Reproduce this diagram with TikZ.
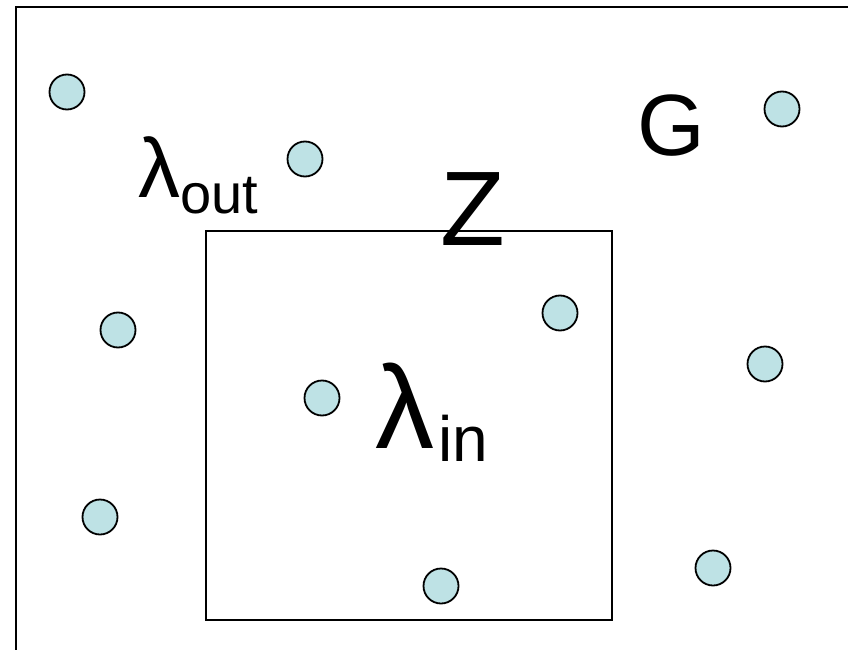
\documentclass[tikz,border=0pt]{standalone}
\usepackage{fontspec}
\setmainfont{Liberation Sans}
\usepackage{tikz}
\definecolor{dotfill}{RGB}{190,226,229}
\tikzset{
  % --- points of the process ---------------------------------------------
  pt/.style={circle,draw=black,fill=dotfill,line width=1.8pt,
             minimum size=35pt,inner sep=0pt},
  % --- regions -------------------------------------------------------------
  region/.style={draw=black,line width=2pt},
  frame/.style={draw=black,line width=2.6pt},
  lab/.style={inner sep=0pt,anchor=base west},
}
\newcommand{\fsz}[1]{\fontsize{#1}{#1}\selectfont}

\begin{document}
\begin{tikzpicture}[x=1pt,y=-1pt]
  \useasboundingbox (0,0) rectangle (848,650);
  \fill[white] (0,0) rectangle (848,650);

  \coordinate (fl) at (16,650);
  \coordinate (ftl) at (16,7);
  \coordinate (fr) at (848,7);
  \draw[frame]  (fl) -- (ftl) -- (fr);
  \draw[region] (206,231) rectangle (612,620);

  \node[pt] (p1)  at (67,92)   {};
  \node[pt] (p2)  at (305,159) {};
  \node[pt] (p3)  at (782,109) {};
  \node[pt] (p4)  at (118,330) {};
  \node[pt] (p5)  at (560,313) {};
  \node[pt] (p6)  at (765,364) {};
  \node[pt] (p7)  at (322,398) {};
  \node[pt] (p8)  at (100,517) {};
  \node[pt] (p9)  at (441,586) {};
  \node[pt] (p10) at (713,568) {};

  \node[lab] (G)    at (637,155) {\fsz{87}G};
  \node[lab] (Z)    at (440,245) {\fsz{106}Z};
  \node[lab] (lout) at (138,197) {\fsz{84}λ\raisebox{-16pt}{\fsz{56}out}};
  \node[lab] (lin)  at (375,448) {\fsz{118}λ\kern4pt\raisebox{-13pt}{\fsz{64}in}};
\end{tikzpicture}
\end{document}
